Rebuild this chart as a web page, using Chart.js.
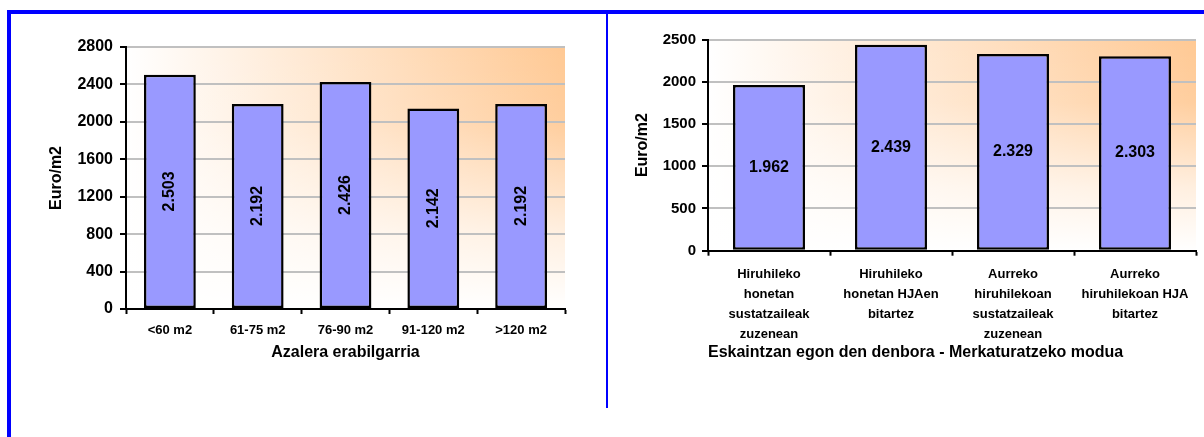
<!DOCTYPE html>
<html>
<head>
<meta charset="utf-8">
<script src="https://cdn.jsdelivr.net/npm/chart.js@4.4.1/dist/chart.umd.min.js"></script>
<style>
  body { margin: 0; width: 1204px; height: 437px; overflow: hidden; position: relative; background: #fff; }
  .frame-top  { position: absolute; left: 7px;   top: 10px; width: 1197px; height: 4px;  background: #0000ff; }
  .frame-left { position: absolute; left: 7px;   top: 10px; width: 4px;    height: 427px; background: #0000ff; }
  .divider    { position: absolute; left: 606px; top: 14px; width: 2px;    height: 394px; background: #0000ff; }
  .box { position: absolute; top: 15px; height: 390px; }
  #box-left  { left: 12px;  width: 592px; }
  #box-right { left: 608px; width: 596px; }
</style>
</head>
<body>
<div class="frame-top"></div>
<div class="frame-left"></div>
<div class="divider"></div>
<div class="box" id="box-left"><canvas id="areaChart"></canvas></div>
<div class="box" id="box-right"><canvas id="modeChart"></canvas></div>

<script>
// ─── DATA ─────────────────────────────────────────────────────
const areaLabels = ['<60 m2', '61-75 m2', '76-90 m2', '91-120 m2', '>120 m2'];
const areaPrices = [2503, 2192, 2426, 2142, 2192];
const areaAxisMax  = 2800;
const areaAxisStep = 400;

const modeLabels = [
  ['Hiruhileko', 'honetan', 'sustatzaileak', 'zuzenean'],
  ['Hiruhileko', 'honetan HJAen', 'bitartez'],
  ['Aurreko', 'hiruhilekoan', 'sustatzaileak', 'zuzenean'],
  ['Aurreko', 'hiruhilekoan HJA', 'bitartez']
];
const modePrices = [1962, 2439, 2329, 2303];
const modeAxisMax  = 2500;
const modeAxisStep = 500;

const yTitle      = 'Euro/m2';
const areaXTitle  = 'Azalera erabilgarria';
const modeXTitle  = 'Eskaintzan egon den denbora - Merkaturatzeko modua';

// ─── DEFAULTS ─────────────────────────────────────────────────
const FONT = '"Liberation Sans", Arial, Helvetica, sans-serif';
Chart.defaults.font.family = FONT;
Chart.defaults.color = '#000';
Chart.defaults.animation = false;

// "2503" -> "2.503"
const fmt = v => (v / 1000).toFixed(3);

// ─── PLUGINS ──────────────────────────────────────────────────
// peach wash: white on the left, orange top-right, fading to white at the bottom
const plotWash = {
  id: 'plotWash',
  beforeDraw(chart) {
    const { ctx, chartArea: a } = chart;
    if (!a) return;
    ctx.save();
    const h = ctx.createLinearGradient(a.left, 0, a.right, 0);
    h.addColorStop(0, '#ffffff');
    h.addColorStop(1, '#ffc994');
    ctx.fillStyle = h;
    ctx.fillRect(a.left, a.top, a.width, a.height);
    const v = ctx.createLinearGradient(0, a.top, 0, a.bottom);
    v.addColorStop(0,   'rgba(255,255,255,0)');
    v.addColorStop(0.3, 'rgba(255,255,255,0.1)');
    v.addColorStop(0.7, 'rgba(255,255,255,0.7)');
    v.addColorStop(1,   'rgba(255,255,255,1)');
    ctx.fillStyle = v;
    ctx.fillRect(a.left, a.top, a.width, a.height);
    ctx.restore();
  }
};

// value printed in the middle of each bar
const barValues = {
  id: 'barValues',
  afterDatasetsDraw(chart, args, opts) {
    const { ctx } = chart;
    const meta = chart.getDatasetMeta(0);
    const data = chart.data.datasets[0].data;
    ctx.save();
    ctx.font = `bold ${opts.size}px ${FONT}`;
    ctx.fillStyle = '#000';
    ctx.textAlign = 'center';
    ctx.textBaseline = 'middle';
    meta.data.forEach((bar, i) => {
      const cy = (bar.y + bar.base) / 2;
      ctx.save();
      ctx.translate(bar.x, cy);
      if (opts.rotate) ctx.rotate(-Math.PI / 2);
      ctx.fillText(fmt(data[i]), 0, 0);
      ctx.restore();
    });
    ctx.restore();
  }
};

// ─── CHART FACTORY ────────────────────────────────────────────
function makeChart(id, labels, values, cfg) {
  return new Chart(document.getElementById(id), {
    type: 'bar',
    data: {
      labels,
      datasets: [{
        data: values,
        backgroundColor: '#9999ff',
        borderColor: '#000',
        borderWidth: 2.5,
        borderSkipped: false,
        categoryPercentage: 1,
        barPercentage: 0.59
      }]
    },
    options: {
      responsive: true,
      maintainAspectRatio: false,
      layout: { padding: cfg.padding },
      plugins: {
        legend: { display: false },
        tooltip: { enabled: false },
        barValues: { size: cfg.valueSize, rotate: cfg.rotate }
      },
      scales: {
        x: {
          afterFit: s => { s.height = cfg.xHeight; },
          border: { display: true, color: '#000', width: 2 },
          grid: {
            offset: true, drawOnChartArea: false, drawTicks: true,
            tickLength: 5, tickColor: '#000', tickWidth: 2
          },
          ticks: {
            autoSkip: false, maxRotation: 0, padding: 9,
            font: { size: 13, weight: 'bold', lineHeight: cfg.xLineHeight }
          },
          title: {
            display: true, text: cfg.xTitle, align: cfg.xTitleAlign,
            font: { size: 16, weight: 'bold' },
            padding: { top: 0, bottom: cfg.xTitlePad }
          }
        },
        y: {
          min: 0, max: cfg.max,
          afterFit: s => { s.width = cfg.yWidth; },
          border: { display: true, color: '#000', width: 2 },
          grid: {
            color: '#c0c0c0', lineWidth: 2,
            tickLength: 6, tickColor: '#000', tickWidth: 2
          },
          ticks: {
            stepSize: cfg.step, padding: cfg.yTickPad,
            callback: v => String(v),
            font: { size: cfg.yTickSize, weight: 'bold' }
          },
          title: {
            display: true, text: yTitle,
            font: { size: 16, weight: 'bold' },
            padding: { top: cfg.yTitlePad, bottom: 0 }
          }
        }
      }
    },
    plugins: [plotWash, barValues]
  });
}

makeChart('areaChart', areaLabels, areaPrices, {
  max: areaAxisMax, step: areaAxisStep,
  padding: { top: 32, right: 39, left: 0, bottom: 0 },
  yWidth: 114, xHeight: 96,
  yTickSize: 16, yTickPad: 7, yTitlePad: 35,
  xLineHeight: 1.2, xTitle: areaXTitle, xTitleAlign: 'center', xTitlePad: 43,
  valueSize: 16, rotate: true
});

makeChart('modeChart', modeLabels, modePrices, {
  max: modeAxisMax, step: modeAxisStep,
  padding: { top: 24.5, right: 8, left: 0, bottom: 0 },
  yWidth: 100, xHeight: 154.3,
  yTickSize: 15, yTickPad: 6, yTitlePad: 25,
  xLineHeight: 1.54, xTitle: modeXTitle, xTitleAlign: 'start', xTitlePad: 42.7,
  valueSize: 16, rotate: false
});
</script>
</body>
</html>
